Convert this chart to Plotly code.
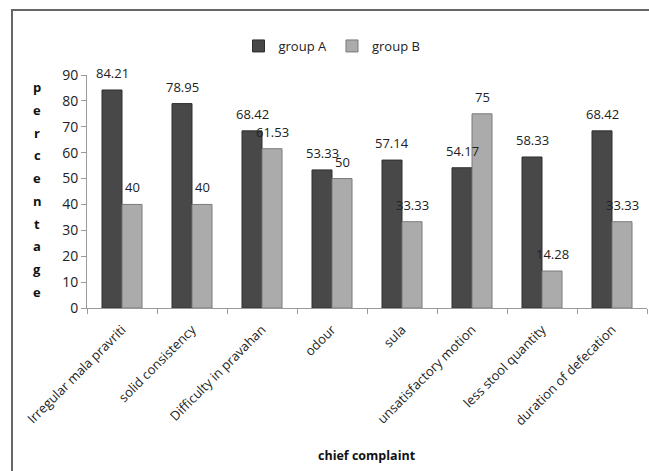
import plotly.graph_objects as go

categories = ["Irregular mala pravriti", "solid consistency", "Difficulty in pravahan",
              "odour", "sula", "unsatisfactory motion", "less stool quantity",
              "duration of defecation"]
group_a = [84.21, 78.95, 68.42, 53.33, 57.14, 54.17, 58.33, 68.42]
group_b = [40, 40, 61.53, 50, 33.33, 75, 14.28, 33.33]
y_ticks = [0, 10, 20, 30, 40, 50, 60, 70, 80, 90]
y_title = "percentage"

FONT = "Open Sans"

fig = go.Figure()
fig.add_trace(go.Bar(
    x=categories, y=group_a, name="group A",
    marker=dict(color="#484848", line=dict(color="#2e2e2e", width=1)),
))
fig.add_trace(go.Bar(
    x=categories, y=group_b, name="group B",
    marker=dict(color="#ababab", line=dict(color="#7a7a7a", width=1)),
))

L, R, T, B = 87, 2, 75, 163
W, H = 649, 471
pw, ph = W - L - R, H - T - B
cat_w = pw / len(categories)
bar_w = 20
bargap = 1 - 2 * bar_w / cat_w

def px_x(x):
    return (x - L) / pw

def px_y(y):
    return (H - B - y) / ph

annotations = []
# data labels drawn on top of all bars
for series, shift in ((group_a, -bar_w / 2), (group_b, bar_w / 2)):
    for c, v in zip(categories, series):
        annotations.append(dict(
            x=c, y=v, xref="x", yref="y", text=f"{v:g}", showarrow=False,
            xshift=shift, yshift=6, xanchor="center", yanchor="bottom",
            font=dict(size=13, color="#222", family=FONT)))

n = len(y_title)
for i, ch in enumerate(y_title):
    py = 87 + i * (292 - 87) / (n - 1)
    annotations.append(dict(
        x=px_x(37), y=px_y(py), xref="paper", yref="paper", text=f"<b>{ch}</b>",
        showarrow=False, font=dict(size=13, color="#111", family=FONT),
        xanchor="center", yanchor="middle"))
annotations.append(dict(
    x=px_x(367), y=px_y(455), xref="paper", yref="paper", text="<b>chief complaint</b>",
    showarrow=False, font=dict(size=12.5, color="#111", family=FONT),
    xanchor="center", yanchor="middle"))

fig.update_layout(
    width=W, height=H,
    margin=dict(l=L, r=R, t=T, b=B),
    paper_bgcolor="white", plot_bgcolor="white",
    barmode="group", bargap=bargap, bargroupgap=0,
    font=dict(family=FONT, size=13, color="#222"),
    showlegend=True,
    legend=dict(orientation="h", x=px_x(332), y=px_y(46), xanchor="center",
                yanchor="middle", font=dict(size=13, color="#222", family=FONT),
                itemwidth=30, bgcolor="rgba(0,0,0,0)"),
    xaxis=dict(showline=True, linecolor="#9a9a9a", linewidth=1,
               ticks="outside", tickson="boundaries", ticklen=5, tickcolor="#9a9a9a",
               ticklabelstandoff=8,
               tickangle=-45, tickfont=dict(size=13, color="#222", family=FONT)),
    yaxis=dict(range=[0, 90], tickvals=y_ticks, showline=True, linecolor="#9a9a9a",
               linewidth=1, ticks="outside", ticklen=5, tickcolor="#9a9a9a",
               showgrid=False, zeroline=False,
               tickfont=dict(size=14, color="#222", family=FONT)),
    annotations=annotations,
    shapes=[dict(type="rect", xref="paper", yref="paper",
                 x0=px_x(12), x1=px_x(700), y0=px_y(500), y1=px_y(10),
                 line=dict(color="#666", width=2))],
)

fig.write_html("out.html")
